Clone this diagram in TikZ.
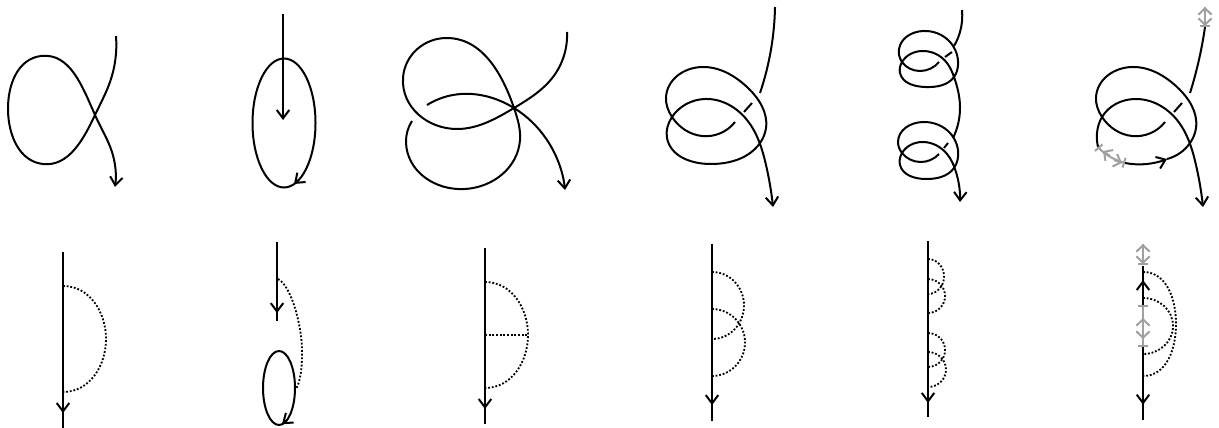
\documentclass[tikz,border=0pt]{standalone}
\usepackage{tikz}
\usetikzlibrary{arrows.meta, decorations.markings, hobby}
\usepackage{xcolor}
\definecolor{LGy}{RGB}{160,160,160}

\begin{document}
\begin{tikzpicture}[
  x=0.6pt, y=-0.6pt,
  tipm/.tip={Straight Barb[length=5pt, width=7.5pt, line width=1.2pt]},
  tipg/.tip={Straight Barb[length=3.8pt, width=8pt, line width=1.2pt]},
  knot/.style={line width=1.2pt, use Hobby shortcut},
  arr/.style={knot, -{tipm}},
  loopy/.style={dash pattern=on 1.1pt off 1.1pt, line width=1.1pt},
  midarr/.style={line width=1.2pt, postaction={decorate},
    decoration={markings, mark=at position #1 with {\arrow{tipm}}}},
  ghost/.style={draw=LGy, line width=1.2pt},
  tick/.tip={Bar[width=6pt, line width=1.2pt]}
]
\useasboundingbox (0,0) rectangle (1219,428);

% Top row
\draw[arr] (116,36) .. (110,82) .. (95,115) .. (43,164) .. (8,110) .. (41,56) .. (95,115) .. (112,152) .. (115,187);

\draw[arr] (283,14) -- (283,120);
\draw[knot] (284,123) ellipse [x radius=31.5, y radius=64.5];
\draw[arr] (298.5,180) -- (294,184);

\draw[knot] (567,32) .. (553,77) .. (514,108) .. (458,129) .. (403,78) .. (447,38) .. (514,108) .. (520,140) .. (465,189) .. (406,142) .. (412,121);
\draw[arr] (427,105) .. (453,95) .. (514,108) .. (547,140) .. (565,190);

\draw[knot] (775,7) .. (770,55) .. (760,93);
\draw[knot] (752,103) -- (744,112);
\draw[arr] (735,122) .. (702,136) .. (672,117) .. (666,97) .. (702,67) .. (747,87) .. (766,128) .. (760,143) .. (710,164) .. (667,138) .. (672,117) .. (705,99) .. (747,120) .. (766,165) .. (773,207);

\draw[knot] (962,10) .. (960,32) .. (954,46);
\draw[knot] (952,52) -- (945,57);
\draw[knot] (939,62) .. (920,71) .. (902,62) .. (899,49) .. (923,31) .. (950,42) .. (958,65) .. (954,77) .. (925,87) .. (900,73) .. (902,62) .. (922,51) .. (947,63) .. (954,77) .. (960,107) .. (953,138);
\draw[knot] (948,143) -- (944,148);
\draw[arr] (939,154) .. (920,162) .. (902,153) .. (898,142) .. (923,122) .. (950,133) .. (958,157) .. (954,168) .. (925,179) .. (900,165) .. (902,153) .. (922,142) .. (947,154) .. (956,172) .. (960,202);

% Gray pieces on the last top knot
\draw[knot] (1205,27) .. (1200,55) .. (1190,93);
\draw[knot] (1182,103) -- (1174,112);
\draw[knot] (1165,122) .. (1132,136) .. (1102,117) .. (1096,97) .. (1132,67) .. (1177,87) .. (1196,128) .. (1190,143) .. (1167,159);
\draw[arr] (1125,163) .. (1147,164) .. (1167,159);
\draw[arr] (1098,147) .. (1097,133) .. (1102,117) .. (1135,99) .. (1177,120) .. (1196,165) .. (1203,207);
\draw[ghost, {tick}-{tick}] (1098,147) .. controls (1105,155) and (1115,160) .. (1125,163);
\draw[ghost, -{tipg}] (1110,156) -- (1103,151);
\draw[ghost, -{tipg}] (1114,160) -- (1122,163);
\draw[ghost, -{tick}] (1205,7) -- (1205,27);
\draw[ghost, -{tipg}] (1205,17) -- (1205,7);
\draw[ghost, -{tipg}] (1205,17) -- (1205,26);

% Bottom row
\draw[midarr=0.915] (63,252) -- (63,428);
\draw[loopy] (63,286) to[out=0, in=90] (106,339) to[out=-90, in=0] (63,392);

\draw[midarr=0.9] (277,242) -- (277,321);
\draw[loopy] (278,279) .. controls (292,286) and (303,330) .. (302,355) .. controls (302,370) and (300,382) .. (296,389);
\draw[knot] (279,388) ellipse [x radius=16, y radius=37];
\draw[arr] (287,420) -- (282,424);

\draw[midarr=0.915] (485,248) -- (485,424);
\draw[loopy] (485,282) to[out=0, in=90] (528,335) to[out=-90, in=0] (485,388);
\draw[loopy] (485,335) -- (528,335);

\draw[midarr=0.91] (712,244) -- (712,421);
\foreach \a/\b/\p in {272/339/744, 309/376/745}
  \draw[loopy] (712,\a) to[out=0, in=90] (\p,{(\a+\b)/2}) to[out=-90, in=0] (712,\b);

\draw[midarr=0.92] (928,241) -- (928,417);
\foreach \a/\b/\p in {259/294/944, 279/313/945, 333/367/945, 352/387/946}
  \draw[loopy] (928,\a) to[out=0, in=90] (\p,{(\a+\b)/2}) to[out=-90, in=0] (928,\b);

\draw[knot] (1143,266) -- (1143,305);
\draw[arr] (1143,290) -- (1143,280);
\draw[midarr=0.79] (1143,347) -- (1143,420);
\draw[ghost, -{tick}] (1143,244) -- (1143,265);
\draw[ghost, -{tipg}] (1143,254) -- (1143,244);
\draw[ghost, -{tipg}] (1143,254) -- (1143,264);
\draw[ghost, {tick}-{tick}] (1143,305) -- (1143,347);
\draw[ghost, -{tipg}] (1143,328) -- (1143,318);
\draw[ghost, -{tipg}] (1143,328) -- (1143,339);
\foreach \a/\b/\p in {272/376/1176, 298/354/1173}
  \draw[loopy] (1143,\a) to[out=0, in=90] (\p,{(\a+\b)/2}) to[out=-90, in=0] (1143,\b);
\end{tikzpicture}
\end{document}
